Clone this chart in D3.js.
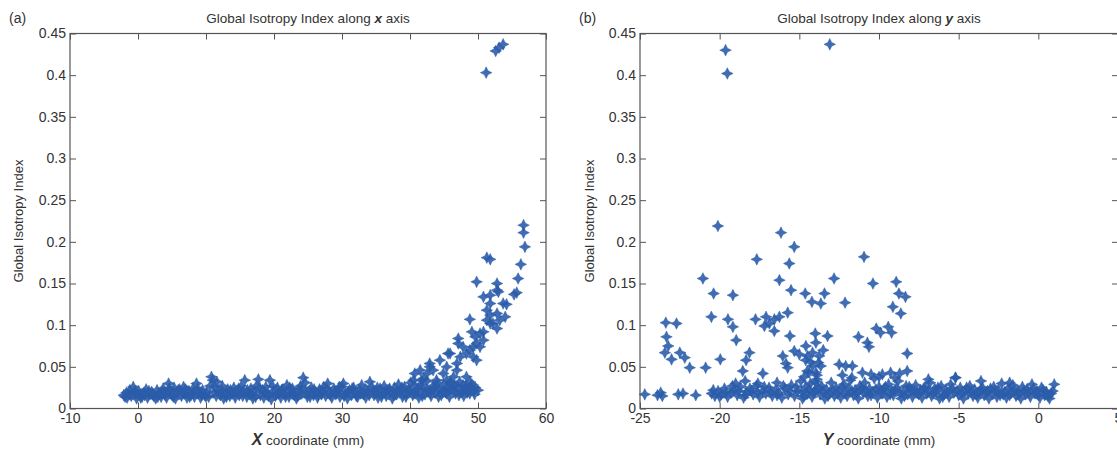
<!DOCTYPE html>
<html>
<head>
<meta charset="utf-8">
<script src="https://cdn.jsdelivr.net/npm/d3@7"></script>
<style>
body { margin: 0; background: #fff; }
svg { display: block; font-family: "Liberation Sans", Arial, sans-serif; }
.axis path, .axis line { stroke: #555; }
.axis text { fill: #333; font-size: 14px; font-family: "Liberation Sans", Arial, sans-serif; }
.lbl { fill: #333; }
</style>
</head>
<body>
<svg width="1117" height="452"></svg>
<script>
// tick values / labels
var xTicksA = [-10, 0, 10, 20, 30, 40, 50, 60];
var xTicksB = [-25, -20, -15, -10, -5, 0, 5];
var yTicks = [0, 0.05, 0.1, 0.15, 0.2, 0.25, 0.3, 0.35, 0.4, 0.45];
var yTickLabels = ["0", "0.05", "0.1", "0.15", "0.2", "0.25", "0.3", "0.35", "0.4", "0.45"];

// (a) GII along x : [X coordinate mm, index]
var bandA = [[-2.1,0.016],[-1.7,0.019],[-1.6,0.013],[-1.2,0.022],[-1.0,0.015],[-0.7,0.026],[-0.5,0.018],[-0.2,0.012],[0.1,0.021],[0.3,0.016],
  [0.6,0.014],[0.9,0.019],[1.2,0.023],[1.4,0.013],[1.7,0.017],[2.0,0.020],[2.3,0.015],[2.6,0.012],[2.8,0.022],[3.1,0.017],
  [3.4,0.014],[3.7,0.024],[3.9,0.019],[4.2,0.013],[4.5,0.030],[4.7,0.021],[5.0,0.016],[5.3,0.025],[5.5,0.012],[5.8,0.019],
  [6.1,0.023],[6.4,0.015],[6.7,0.026],[6.9,0.018],[7.2,0.013],[7.5,0.021],[7.8,0.016],[8.1,0.024],[8.3,0.014],[8.6,0.030],
  [8.9,0.019],[9.2,0.013],[9.5,0.022],[9.8,0.016],[10.1,0.020],[10.4,0.014],[10.8,0.038],[11.0,0.034],[11.3,0.026],[11.6,0.032],
  [11.8,0.021],[12.1,0.016],[12.4,0.027],[12.6,0.012],[12.9,0.019],[13.2,0.023],[13.5,0.015],[13.8,0.018],[14.1,0.025],[14.3,0.013],
  [14.6,0.020],[14.9,0.016],[15.2,0.027],[15.5,0.021],[15.7,0.034],[16.0,0.014],[16.3,0.018],[16.6,0.024],[16.9,0.012],[17.1,0.020],
  [17.4,0.027],[17.7,0.035],[18.0,0.016],[18.3,0.022],[18.5,0.013],[18.8,0.026],[19.1,0.018],[19.4,0.034],[19.6,0.011],[19.9,0.021],
  [20.2,0.015],[20.5,0.025],[20.8,0.019],[21.0,0.013],[21.3,0.023],[21.6,0.017],[21.9,0.028],[22.2,0.014],[22.4,0.020],[22.7,0.024],
  [23.0,0.016],[23.3,0.012],[23.6,0.022],[23.9,0.027],[24.1,0.018],[24.3,0.037],[24.6,0.031],[24.9,0.014],[25.2,0.021],[25.5,0.025],
  [25.8,0.016],[26.1,0.019],[26.4,0.013],[26.7,0.023],[27.0,0.017],[27.3,0.026],[27.6,0.015],[27.9,0.030],[28.2,0.020],[28.5,0.013],
  [28.8,0.024],[29.1,0.017],[29.4,0.021],[29.7,0.014],[30.0,0.026],[30.2,0.030],[30.5,0.018],[30.8,0.012],[31.1,0.022],[31.4,0.016],
  [31.7,0.025],[32.0,0.019],[32.3,0.014],[32.6,0.023],[32.9,0.028],[33.2,0.017],[33.5,0.013],[33.8,0.021],[34.1,0.032],[34.4,0.026],
  [34.7,0.016],[35.0,0.020],[35.3,0.013],[35.6,0.024],[35.9,0.018],[36.2,0.027],[36.5,0.015],[36.8,0.022],[37.1,0.019],[37.4,0.012],
  [37.7,0.025],[38.0,0.017],[38.3,0.029],[38.6,0.021],[38.9,0.014],[39.2,0.026],[39.5,0.018],[39.8,0.023],[40.1,0.031],[40.4,0.016],
  [40.7,0.027],[41.0,0.020],[41.3,0.013],[41.6,0.029],[41.9,0.024],[42.2,0.017],[42.5,0.033],[42.8,0.021],[43.1,0.015],[43.4,0.027],
  [43.7,0.019],[44.0,0.031],[44.3,0.023],[44.6,0.016],[44.9,0.028],[45.2,0.020],[45.5,0.025],[45.8,0.014],[46.1,0.030],[46.4,0.022],
  [46.7,0.018],[47.0,0.026],[47.3,0.032],[47.6,0.020],[47.9,0.015],[48.2,0.027],[48.5,0.023],[48.8,0.018],[49.1,0.029],[49.4,0.021],[49.6,0.025]];
var bandA2 = [[-1.9,0.014],[-1.3,0.017],[-0.4,0.021],[0.4,0.013],[1.0,0.016],[1.6,0.021],[2.2,0.018],[2.9,0.014],[3.5,0.020],[4.0,0.016],
  [4.6,0.024],[5.2,0.014],[5.9,0.022],[6.5,0.019],[7.0,0.023],[7.6,0.014],[8.2,0.019],[8.8,0.024],[9.4,0.016],[10.0,0.014],
  [10.6,0.027],[11.1,0.019],[11.5,0.015],[12.3,0.021],[13.0,0.014],[13.6,0.022],[14.2,0.018],[14.8,0.024],[15.4,0.015],[16.1,0.022],
  [16.7,0.017],[17.3,0.014],[17.9,0.025],[18.6,0.019],[19.2,0.015],[19.8,0.027],[20.4,0.018],[21.1,0.022],[21.7,0.014],[22.3,0.025],
  [22.9,0.019],[23.5,0.015],[24.0,0.024],[24.7,0.019],[25.3,0.014],[25.9,0.023],[26.5,0.017],[27.1,0.021],[27.7,0.024],[28.3,0.016],
  [29.0,0.020],[29.6,0.026],[30.3,0.015],[30.9,0.020],[31.5,0.024],[32.1,0.015],[32.7,0.018],[33.4,0.023],[34.0,0.016],[34.6,0.021],
  [35.2,0.025],[35.8,0.014],[36.4,0.020],[37.0,0.024],[37.6,0.016],[38.2,0.021],[38.8,0.025],[39.4,0.014],[40.0,0.021],[40.6,0.018],
  [41.2,0.024],[41.8,0.015],[42.4,0.023],[43.0,0.019],[43.6,0.025],[44.2,0.014],[44.8,0.021],[45.4,0.018],[46.0,0.024],[46.6,0.027],
  [47.2,0.016],[47.8,0.022],[48.4,0.019],[49.0,0.025],[49.5,0.017],[50.0,0.022]];
var riseA = [[40.5,0.034],[40.7,0.042],[41.5,0.046],[41.7,0.034],[42.0,0.036],[42.5,0.042],[42.9,0.054],[42.9,0.050],[43.4,0.046],[43.9,0.034],
  [44.4,0.058],[44.9,0.042],[45.4,0.034],[45.4,0.050],[45.6,0.066],[45.9,0.066],[45.9,0.032],[46.4,0.038],[46.9,0.046],[46.9,0.054],
  [47.1,0.084],[47.1,0.078],[47.4,0.062],[47.8,0.074],[47.8,0.028],[48.3,0.066],[48.3,0.038],[48.8,0.070],[48.8,0.032],[48.8,0.107],
  [49.1,0.092],[49.3,0.062],[49.3,0.074],[49.6,0.086],[49.8,0.058],[49.8,0.078],[49.8,0.152],[50.3,0.074],[50.3,0.090],[50.8,0.082],
  [50.8,0.092],[50.8,0.134],[51.3,0.106],[51.3,0.118],[51.3,0.181],[51.8,0.179],[51.8,0.136],[51.8,0.126],[51.8,0.112],[51.8,0.102],
  [52.2,0.102],[52.8,0.150],[52.8,0.142],[52.8,0.114],[52.8,0.096],[53.0,0.140],[53.2,0.106],[53.7,0.126],[54.0,0.110],[54.2,0.125],
  [55.3,0.137],[55.7,0.139],[55.9,0.156],[56.3,0.173],[56.7,0.220],[56.7,0.211],[56.9,0.194]];
var outliersA = [[51.2,0.403],[52.6,0.429],[53.1,0.433],[53.7,0.437]];

// (b) GII along y : [Y coordinate mm, index]
var bandB = [[-24.7,0.017],[-23.9,0.016],[-23.7,0.019],[-23.6,0.015],[-22.6,0.017],[-22.3,0.018],[-21.5,0.016],
  [-20.5,0.018],[-20.3,0.015],[-20.1,0.021],[-19.9,0.017],[-19.7,0.024],[-19.5,0.014],[-19.3,0.019],[-19.1,0.022],[-18.9,0.016],[-18.7,0.026],
  [-18.5,0.013],[-18.3,0.020],[-18.1,0.024],[-17.9,0.017],[-17.7,0.027],[-17.5,0.014],[-17.3,0.021],[-17.1,0.018],[-16.9,0.025],[-16.7,0.015],
  [-16.5,0.022],[-16.3,0.019],[-16.1,0.013],[-15.9,0.024],[-15.7,0.017],[-15.5,0.028],[-15.3,0.015],[-15.1,0.021],[-14.9,0.033],[-14.8,0.012],
  [-14.6,0.026],[-14.5,0.018],[-14.3,0.030],[-14.2,0.014],[-14.0,0.022],[-13.9,0.035],[-13.7,0.017],[-13.6,0.027],[-13.4,0.012],[-13.3,0.023],
  [-13.1,0.019],[-13.0,0.031],[-12.8,0.015],[-12.7,0.025],[-12.5,0.021],[-12.4,0.013],[-12.2,0.029],[-12.1,0.018],[-11.9,0.024],[-11.8,0.034],
  [-11.6,0.016],[-11.5,0.022],[-11.3,0.012],[-11.2,0.027],[-11.0,0.019],[-10.9,0.031],[-10.7,0.015],[-10.6,0.024],[-10.4,0.020],[-10.3,0.036],
  [-10.1,0.013],[-10.0,0.026],[-9.8,0.018],[-9.7,0.023],[-9.5,0.014],[-9.4,0.029],[-9.2,0.021],[-9.1,0.016],[-8.9,0.025],[-8.8,0.033],
  [-8.6,0.012],[-8.5,0.020],[-8.3,0.027],[-8.2,0.017],[-8.0,0.023],[-7.9,0.014],[-7.7,0.028],[-7.6,0.019],[-7.4,0.022],[-7.3,0.013],
  [-7.1,0.026],[-7.0,0.018],[-6.8,0.031],[-6.7,0.015],[-6.5,0.024],[-6.4,0.020],[-6.2,0.012],[-6.1,0.027],[-5.9,0.017],[-5.8,0.022],
  [-5.6,0.014],[-5.5,0.029],[-5.3,0.019],[-5.2,0.037],[-5.0,0.016],[-4.9,0.025],[-4.7,0.012],[-4.6,0.021],[-4.4,0.018],[-4.3,0.027],
  [-4.1,0.015],[-4.0,0.023],[-3.8,0.013],[-3.7,0.019],[-3.5,0.025],[-3.4,0.016],[-3.2,0.021],[-3.1,0.012],[-2.9,0.018],[-2.8,0.026],
  [-2.6,0.014],[-2.5,0.022],[-2.3,0.030],[-2.2,0.017],[-2.0,0.013],[-1.9,0.024],[-1.7,0.019],[-1.6,0.028],[-1.4,0.015],[-1.3,0.021],
  [-1.1,0.012],[-1.0,0.026],[-0.8,0.017],[-0.7,0.023],[-0.5,0.014],[-0.4,0.029],[-0.2,0.018],[-0.1,0.021],[0.1,0.013],[0.2,0.025],
  [0.4,0.016],[0.5,0.020],[0.7,0.012],[0.8,0.018],[1.0,0.029],
  [-19.0,0.030],[-18.4,0.033],[-17.6,0.030],[-16.4,0.031],[-14.7,0.038],[-14.0,0.032],[-13.9,0.040],[-12.3,0.040],[-11.7,0.037],
  [-10.5,0.041],[-10.0,0.038],[-9.0,0.037],[-8.7,0.042],[-6.9,0.035],[-3.6,0.033],[-1.8,0.031]];
var bandB2 = [[-20.4,0.022],[-20.0,0.014],[-19.6,0.019],[-19.2,0.027],[-18.8,0.021],[-18.4,0.016],[-18.0,0.021],[-17.6,0.019],[-17.2,0.026],
  [-16.8,0.020],[-16.4,0.016],[-16.0,0.027],[-15.6,0.021],[-15.2,0.026],[-14.85,0.020],[-14.7,0.015],[-14.4,0.023],[-14.1,0.019],[-13.8,0.025],
  [-13.5,0.020],[-13.2,0.015],[-12.9,0.022],[-12.6,0.018],[-12.3,0.026],[-12.0,0.015],[-11.7,0.021],[-11.4,0.018],[-11.1,0.024],[-10.8,0.021],
  [-10.5,0.016],[-10.2,0.023],[-9.9,0.020],[-9.6,0.026],[-9.3,0.017],[-9.0,0.022],[-8.7,0.019],[-8.4,0.015],[-8.1,0.026],[-7.8,0.021],
  [-7.5,0.017],[-7.2,0.024],[-6.9,0.021],[-6.6,0.018],[-6.3,0.025],[-6.0,0.014],[-5.7,0.019],[-5.4,0.024],[-5.1,0.021],[-4.8,0.018],
  [-4.5,0.025],[-4.2,0.020],[-3.9,0.017],[-3.6,0.023],[-3.3,0.019],[-3.0,0.024],[-2.7,0.021],[-2.4,0.016],[-2.1,0.020],[-1.8,0.016],
  [-1.5,0.022],[-1.2,0.018],[-0.9,0.021],[-0.6,0.019],[-0.3,0.024],[0.0,0.016],[0.3,0.022],[0.6,0.015],[0.9,0.021]];
var scatterB = [[-23.38,0.103],[-22.71,0.102],[-23.34,0.086],[-23.23,0.075],[-23.44,0.067],[-23.02,0.059],[-22.5,0.067],[-22.19,0.061],
  [-21.88,0.049],[-21.05,0.156],[-20.88,0.049],[-20.52,0.110],[-20.38,0.138],[-20.11,0.219],[-19.96,0.059],[-19.48,0.107],[-19.17,0.136],
  [-19.17,0.098],[-18.96,0.082],[-18.13,0.067],[-18.34,0.058],[-18.55,0.045],[-17.75,0.107],[-17.67,0.179],[-17.29,0.042],[-17.19,0.099],
  [-17.09,0.110],[-16.88,0.102],[-16.57,0.107],[-16.57,0.093],[-16.25,0.110],[-16.25,0.154],[-16.15,0.211],[-16.04,0.063],[-15.84,0.054],
  [-15.73,0.049],[-15.73,0.115],[-15.63,0.174],[-15.59,0.087],[-15.52,0.142],[-15.32,0.194],[-15.32,0.069],[-15.0,0.065],[-14.63,0.138],
  [-14.59,0.075],[-14.48,0.063],[-14.6,0.058],[-14.5,0.045],[-14.3,0.056],[-14.38,0.043],[-14.21,0.128],[-14.17,0.067],[-14.17,0.051],
  [-14.0,0.090],[-13.96,0.079],[-13.96,0.043],[-13.8,0.055],[-13.75,0.063],[-13.65,0.126],[-13.65,0.051],[-13.5,0.070],[-13.42,0.138],
  [-13.23,0.087],[-12.82,0.156],[-12.5,0.053],[-12.13,0.127],[-12.09,0.051],[-11.67,0.051],[-11.29,0.086],[-11.04,0.043],[-10.94,0.182],
  [-10.73,0.079],[-10.63,0.074],[-10.38,0.150],[-10.17,0.096],[-9.9,0.091],[-9.79,0.041],[-9.42,0.098],[-9.27,0.043],[-9.21,0.091],
  [-9.13,0.122],[-8.92,0.152],[-8.75,0.138],[-8.63,0.114],[-8.34,0.134],[-8.23,0.066],[-8.23,0.045],[-5.2,0.037]];
var outliersB = [[-19.63,0.430],[-19.52,0.402],[-13.09,0.437]];

var svg = d3.select("svg");
var plotTop = 33.5, plotBottom = 408.5;
var blue = "#2a5caa";

// 4-pointed star marker
var sparkle = {
  draw: function(ctx, size) {
    var r = Math.sqrt(size) / 2, q = r * 0.33;
    ctx.moveTo(0, -r); ctx.lineTo(q, -q); ctx.lineTo(r, 0); ctx.lineTo(q, q);
    ctx.lineTo(0, r); ctx.lineTo(-q, q); ctx.lineTo(-r, 0); ctx.lineTo(-q, -q);
    ctx.closePath();
  }
};
var marker = d3.symbol(sparkle, 135);

var panels = [
  {tag: "(a)", letter: "x", axLetter: "X", left: 70, right: 546, domain: [-10, 60], ticks: xTicksA,
   data: bandA.concat(bandA2, riseA, outliersA), tagX: 9, ylabX: 18},
  {tag: "(b)", letter: "y", axLetter: "Y", left: 640, right: 1118, domain: [-25, 5], ticks: xTicksB,
   data: bandB.concat(bandB2, scatterB, outliersB), tagX: 579, ylabX: 589}
];

var y = d3.scaleLinear().domain([0, 0.45]).range([plotBottom, plotTop]);

panels.forEach(function(p) {
  var x = d3.scaleLinear().domain(p.domain).range([p.left, p.right]);
  var g = svg.append("g");
  var cx = (p.left + p.right) / 2;

  g.selectAll(".pt")
    .data(p.data)
    .enter().append("path")
      .attr("class", "pt")
      .attr("d", marker)
      .attr("transform", function(d) { return "translate(" + x(d[0]) + "," + y(d[1]) + ")"; })
      .attr("fill", blue)
      .attr("fill-opacity", 0.9)
      .attr("stroke", blue)
      .attr("stroke-width", 0.8)
      .attr("stroke-opacity", 0.6);

  g.append("g")
    .attr("class", "axis")
    .attr("transform", "translate(0," + plotBottom + ")")
    .call(d3.axisBottom(x).tickValues(p.ticks).tickFormat(function(d) { return String(d); })
      .tickSizeInner(-6).tickSizeOuter(0).tickPadding(5));
  g.append("g")
    .attr("class", "axis")
    .attr("transform", "translate(0," + plotTop + ")")
    .call(d3.axisTop(x).tickValues(p.ticks).tickFormat("").tickSizeInner(-6).tickSizeOuter(0));
  g.append("g")
    .attr("class", "axis")
    .attr("transform", "translate(" + p.left + ",0)")
    .call(d3.axisLeft(y).tickValues(yTicks).tickFormat(function(d, i) { return yTickLabels[i]; })
      .tickSizeInner(-6).tickSizeOuter(0).tickPadding(4));
  g.append("g")
    .attr("class", "axis")
    .attr("transform", "translate(" + p.right + ",0)")
    .call(d3.axisRight(y).tickValues(yTicks).tickFormat("").tickSizeInner(-6).tickSizeOuter(0));

  g.selectAll(".axis .domain").remove();
  g.append("rect")
    .attr("x", p.left).attr("y", plotTop)
    .attr("width", p.right - p.left).attr("height", plotBottom - plotTop)
    .attr("fill", "none").attr("stroke", "#555").attr("stroke-width", 1.2);

  g.append("text")
    .attr("class", "lbl")
    .attr("x", p.tagX).attr("y", 23)
    .style("font-size", "14px")
    .text(p.tag);

  var t = g.append("text")
    .attr("class", "lbl")
    .attr("x", cx).attr("y", 23)
    .attr("text-anchor", "middle")
    .style("font-size", "13.5px");
  t.append("tspan").text("Global Isotropy Index along ");
  t.append("tspan").style("font-weight", "bold").style("font-style", "italic").text(p.letter);
  t.append("tspan").text("  axis");

  var xl = g.append("text")
    .attr("class", "lbl")
    .attr("x", cx).attr("y", 445)
    .attr("text-anchor", "middle")
    .style("font-size", "13.5px");
  xl.append("tspan").style("font-weight", "bold").style("font-style", "italic").style("font-size", "16px").text(p.axLetter);
  xl.append("tspan").text(" coordinate (mm)");

  g.append("text")
    .attr("class", "lbl")
    .attr("transform", "translate(" + p.ylabX + "," + ((plotTop + plotBottom) / 2) + ") rotate(-90)")
    .attr("text-anchor", "middle")
    .attr("dy", "0.35em")
    .style("font-size", "13px")
    .text("Global Isotropy Index");
});
</script>
</body>
</html>
